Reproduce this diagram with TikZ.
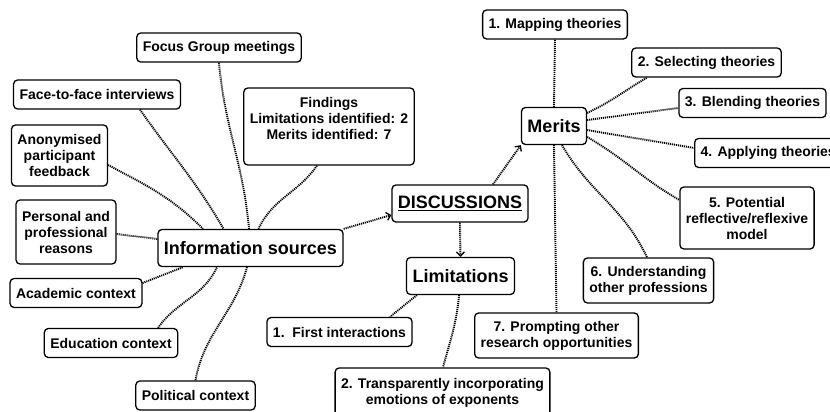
\documentclass[tikz,border=0pt]{standalone}
\usepackage{fontspec}
\setmainfont{Liberation Sans}
\usetikzlibrary{arrows.meta}

\begin{document}
\begin{tikzpicture}[x=1pt,y=1pt,
    box/.style={draw=black,fill=white,line width=1.3pt,rounded corners=4pt,
        align=center,inner xsep=6pt,inner ysep=2pt,minimum height=29pt,
        font=\bfseries\fontsize{14}{16}\selectfont},
    hub/.style={box,minimum height=37pt,font=\bfseries\fontsize{18}{20}\selectfont},
    link/.style={line width=1.9pt,dash pattern=on 1.1pt off 0.9pt},
    flow/.style={link,-{Straight Barb[length=4pt,width=8pt,line width=1.3pt]}}]
  \useasboundingbox (0,0) rectangle (830,-412);
  \clip (0,0) rectangle (830,-412);
  % information sources side
  \node[box] (focus) at (219,-47.5) {Focus Group meetings};
  \node[box] (face) at (97,-94.5) {Face-to-face interviews};
  \node[box,minimum height=61pt] (anon) at (59.5,-155.5) {Anonymised\\participant\\feedback};
  \node[box,minimum height=77pt] (findings) at (329,-126.5) {Findings\\Limitations identified: 2\\Merits identified: 7\\\mbox{}};
  \node[box,minimum height=64pt] (personal) at (66,-232) {Personal and\\professional\\reasons};
  \node[hub] (info) at (250.5,-248) {Information sources};
  \node[box] (academic) at (76,-293) {Academic context};
  \node[box] (education) at (111,-343) {Education context};
  \node[box] (political) at (195.5,-395.5) {Political context};
  % discussions, merits, limitations
  \node[hub] (disc) at (460,-203.5) {\underline{DISCUSSIONS}};
  \node[hub] (merits) at (554,-126) {Merits};
  \node[hub] (limits) at (460.5,-276) {Limitations};
  \node[box] (map) at (555,-24.5) {1. Mapping theories};
  \node[box] (select) at (706.5,-62.5) {2. Selecting theories};
  \node[box] (blend) at (752.5,-103) {3. Blending theories};
  \node[box,anchor=west] (apply) at (694,-153) {4. Applying theories};
  \node[box,minimum height=62pt] (model) at (747,-218) {5. Potential\\reflective/reflexive\\model};
  \node[box,minimum height=45pt] (prof) at (648.5,-280.5) {6. Understanding\\other professions};
  \node[box,minimum height=45pt] (prompt) at (556.5,-335.5) {7. Prompting other\\research opportunities};
  \node[box] (first) at (339.5,-332) {1.\ \ First interactions};
  \node[box,minimum height=49pt] (emotions) at (442.5,-392.5) {2. Transparently incorporating\\emotions of exponents};
  \path
  (focus.south) edge [link,out=-85,in=95] ([xshift=-1.5pt]info.north)
  ([xshift=43pt]face.south) edge [link,out=-55,in=120] ([xshift=-27pt]info.north)
  ([yshift=-9.5pt]anon.east) edge [link,out=-28,in=135] ([xshift=-47.5pt]info.north)
  ([xshift=-12pt]findings.south) edge [link,out=-125,in=65] ([xshift=8pt]info.north)
  ([yshift=-2pt]personal.east) edge [link] ([yshift=9pt]info.west)
  ([yshift=10pt]academic.east) edge [link] ([xshift=-67.5pt]info.south)
  ([xshift=47pt]education.north) edge [link,out=55,in=-115] ([xshift=-33.5pt]info.south)
  (political.north) edge [link,out=80,in=-105] ([xshift=-3.5pt]info.south);
  \path
  (info.north east) edge [flow] ([yshift=-11.5pt]disc.west)
  ([xshift=33pt]disc.north) edge [flow] (merits.south west)
  (disc.south) edge [flow] (limits.north);
  \path
  (merits.north) edge [link] (map.south)
  ([yshift=13pt]merits.east) edge [link,out=25,in=-150] ([xshift=-59.5pt]select.south)
  ([yshift=6pt]merits.east) edge [link] ([yshift=-5pt]blend.west)
  ([yshift=-4pt]merits.east) edge [link,out=-10,in=170] ([yshift=5pt]apply.west)
  ([yshift=-11pt]merits.east) edge [link,out=-30,in=150] ([yshift=18pt]model.west)
  ([xshift=8pt]merits.south) edge [link,out=-60,in=115] ([xshift=-1.5pt]prof.north)
  (merits.south) edge [link] (prompt.north);
  \path
  ([xshift=11pt]limits.south west) edge [link] ([xshift=50.5pt]first.north)
  ([xshift=-1.5pt]limits.south) edge [link,out=-95,in=75] ([xshift=0.5pt]emotions.north);
\end{tikzpicture}
\end{document}
